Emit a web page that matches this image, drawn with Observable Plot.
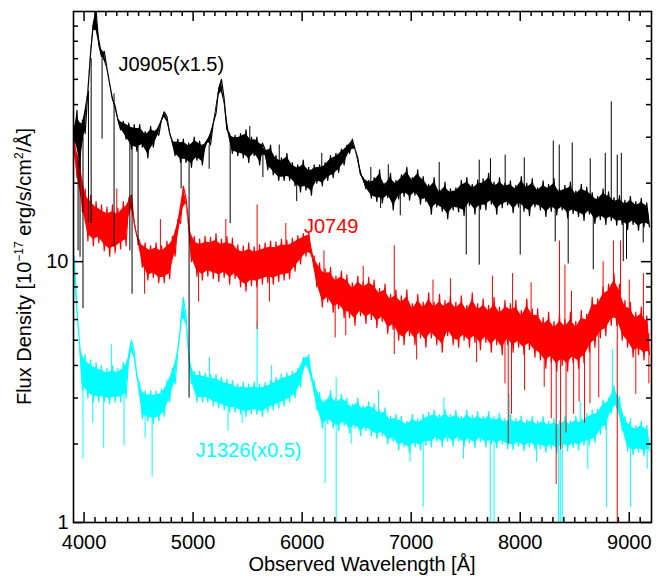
<!DOCTYPE html>
<html><head><meta charset="utf-8">
<script src="https://cdn.jsdelivr.net/npm/d3@7"></script>
<script src="https://cdn.jsdelivr.net/npm/@observablehq/plot@0.6"></script>
<style>body{margin:0;background:#fff}#chart svg{display:block}</style>
</head><body><div id="chart"></div>
<script>
const wavelength = [
3910,3935,3960,3985,4010,4035,4060,4085,4110,4135,
4160,4185,4210,4235,4260,4285,4310,4335,4360,4385,
4410,4435,4460,4485,4510,4535,4560,4585,4610,4635,
4660,4685,4710,4735,4760,4785,4810,4835,4860,4885,
4910,4935,4960,4985,5010,5035,5060,5085,5110,5135,
5160,5185,5210,5235,5260,5285,5310,5335,5360,5385,
5410,5435,5460,5485,5510,5535,5560,5585,5610,5635,
5660,5685,5710,5735,5760,5785,5810,5835,5860,5885,
5910,5935,5960,5985,6010,6035,6060,6085,6110,6135,
6160,6185,6210,6235,6260,6285,6310,6335,6360,6385,
6410,6435,6460,6485,6510,6535,6560,6585,6610,6635,
6660,6685,6710,6735,6760,6785,6810,6835,6860,6885,
6910,6935,6960,6985,7010,7035,7060,7085,7110,7135,
7160,7185,7210,7235,7260,7285,7310,7335,7360,7385,
7410,7435,7460,7485,7510,7535,7560,7585,7610,7635,
7660,7685,7710,7735,7760,7785,7810,7835,7860,7885,
7910,7935,7960,7985,8010,8035,8060,8085,8110,8135,
8160,8185,8210,8235,8260,8285,8310,8335,8360,8385,
8410,8435,8460,8485,8510,8535,8560,8585,8610,8635,
8660,8685,8710,8735,8760,8785,8810,8835,8860,8885,
8910,8935,8960,8985,9010,9035,9060,9085,9110,9135,
9160,9185];

const fluxJ0905 = [
29,38,23,35,31,45,63,82,92,68,
61,64,55,48,42,39.5,35,32,34.5,29.5,
34,27,33.5,26.5,33.5,27.5,31.5,25,33,27.5,
32,30.5,35,37.5,36,31,29,25.5,29.5,24,
29.5,24,28.5,23,30,24.5,29,23.5,28.5,29.5,
28,34,37,46,50,42,32,31,26,30.5,
25.5,31,25,32,24,30,25.5,30,23.5,28.5,
27,22.5,28,21.5,25.5,20.5,25,20.5,26,20.5,
24,19.5,23.5,18.5,24.5,18.8,23,18,23.5,20,
23.5,19.5,24,20.5,25.5,21,26,22,27,23.5,
28,26,29.5,27,25,21.5,21,19,20.5,17.5,
21,17,22.5,16.8,20,17.6,21.8,15.8,20.5,17.4,
21.5,17.8,23,17.2,21,18,22.5,16.6,21.2,17,
19.8,15.2,21,16.2,18.8,15.6,20.2,14.6,19,15.8,
19.2,15.5,20.5,15,21,16.4,19.8,15.2,20.6,15.9,
20.8,15.8,21.8,16.6,20.2,15.2,21,16.1,20,16.5,
20.4,15.4,19.6,16.2,21.2,15.6,20,15,20.8,16.2,
19.2,15.8,20.4,14.9,19.8,15.6,20.8,15.1,19,15.8,
19.6,14.7,20.2,15.3,18.7,14.9,19.8,14.4,19.3,15.2,
18.4,14,17.8,14.5,19,13.9,18.5,14.4,17.6,13.8,
17.9,13.9,17.2,13.3,17.8,13.9,17,13.2,17.5,13.6,
16.8,13.6];

const fluxJ0749 = [
30,21,25,15.5,19,12,18,11.5,17,11.8,
16.5,11,16.2,10.5,16.5,10.8,16,11.2,17,11.5,
17.5,18,14,12.5,12,9.5,11.8,8.5,11.5,8.7,
11.8,8.3,11.5,8.3,12,8.6,12.5,10.5,14.5,14,
19.5,17.5,14,10,12.5,8.8,12.2,8.5,12.5,8.8,
12.4,8.6,12.8,8.4,12.2,8.7,12.5,8.2,12.3,8.6,
11.6,8.0,11.5,7.7,11.8,8.1,11.4,8.0,11.6,8.2,
11.8,8.3,12,8.2,11.9,8.4,12.2,8.5,12.1,8.6,
12.3,9.2,12.6,9.8,12.8,10.5,13,10.5,10.5,8.0,
9.9,6.7,9.4,7.0,9.5,6.4,8.8,6.6,9.2,6.1,
8.9,6.1,8.3,5.7,8.8,6.2,8.4,5.8,8.7,6.0,
8.5,5.6,7.9,5.9,8.2,5.3,7.5,5.5,7.8,5.0,
7.4,4.8,7.8,5.2,6.9,4.8,7.5,5.1,7.0,4.7,
7.6,5.1,7.0,4.8,7.5,4.5,7.1,5.2,7.4,4.8,
7.0,4.7,7.4,5.0,6.8,4.7,7.6,4.9,6.9,4.6,
7.2,4.9,6.8,4.5,7.3,4.8,6.7,4.4,7.1,4.8,
6.9,4.5,7.1,4.7,6.5,4.4,7.2,4.6,6.6,4.3,
6.6,4.2,6.1,3.9,6.4,4.1,5.9,3.8,6.3,4.0,
6.0,3.8,6.4,4.1,5.9,3.9,6.5,4.1,6.3,4.5,
7.3,4.7,7.2,5.1,8.0,5.2,8.2,5.7,9.0,5.7,
8.2,5.0,7.1,4.7,7.0,4.3,6.4,4.4,6.7,4.2,
6.2,4.4];

const fluxJ1326 = [
10.5,6.5,4.8,3.2,4.4,3.0,4.2,2.9,4.1,2.9,
4.0,2.9,3.9,2.85,4.0,2.9,3.9,2.9,4.1,3.0,
4.4,5.0,4.5,3.6,3.4,2.5,3.2,2.45,3.2,2.4,
3.2,2.45,3.25,2.55,3.5,2.9,3.9,3.4,4.6,5.6,
7.3,6.2,4.4,3.4,3.8,2.9,3.8,2.9,3.75,2.9,
3.7,2.8,3.7,2.75,3.6,2.7,3.55,2.65,3.5,2.65,
3.4,2.6,3.45,2.55,3.4,2.6,3.45,2.6,3.4,2.55,
3.45,2.65,3.5,2.7,3.6,2.75,3.7,2.8,3.75,2.9,
3.8,3.0,3.9,3.3,4.3,4.0,4.4,3.5,3.5,2.7,
3.15,2.3,2.95,2.4,3.2,2.3,3.0,2.25,3.1,2.35,
3.0,2.2,2.85,2.3,3.0,2.15,2.8,2.25,2.9,2.15,
2.85,2.1,2.7,2.15,2.75,2.0,2.55,2.05,2.6,1.9,
2.55,1.95,2.45,1.85,2.6,1.95,2.5,1.9,2.6,1.98,
2.65,1.95,2.7,2.05,2.6,1.95,2.72,2.05,2.6,1.96,
2.7,2.05,2.55,1.95,2.7,2.02,2.58,1.94,2.66,2.04,
2.55,1.95,2.66,2.0,2.55,1.93,2.62,2.0,2.5,1.92,
2.6,1.9,2.5,1.96,2.56,1.88,2.48,1.95,2.55,1.9,
2.45,1.92,2.55,1.86,2.44,1.92,2.5,1.85,2.45,1.93,
2.55,1.88,2.46,1.94,2.56,1.9,2.5,1.98,2.62,1.98,
2.7,2.02,2.72,2.18,2.95,2.28,3.0,2.62,3.35,2.75,
3.05,2.25,2.55,1.88,2.45,1.82,2.35,1.86,2.45,1.8,
2.35,1.88];

// narrow features: [wavelength, flux at continuum, flux at tip]
const spikesJ0905 = [
[3945,31,11],[3963,30,10.4],[3990,30,6.6],[4040,45,14],[4065,60,14],[4165,60,29.5],
[4275,44,11.4],[4420,31,11],[4440,30,7.5],[4495,30,11.5],[4890,27,19],[4963,27,3.0],
[5147,28,22.6],[5340,29,14],[5520,27,33],[5640,26,21],[5790,23,28],[5950,21,17],
[6180,21,26],[6630,19,23],[6720,19,16],[6790,19,23.5],[6900,19,15],[7257,17,24],
[7505,17,10.6],[7624,17.5,24.5],[7624,17.5,9.7],[7727,18,24.8],[7862,18,25.6],[8000,18,10.6],
[8037,18,25],[8303,17.5,29],[8321,17.5,11.9],[8358,17.5,28],[8440,17,9.8],[8477,17,28.5],
[8642,16.5,24.8],[8670,16.5,9.3],[8780,16,26],[8835,16,41],[8890,16,25.6],[8927,16,26],
[8945,16,10],[8975,16,10.2],[9128,15.5,11.8]];
const spikesJ0749 = [
[4300,13,19],[4555,10,7.5],[4700,10,14.5],[5050,10,7],[5300,10,14.5],[5587,9.5,16.5],
[5587,9.5,5.5],[5700,9.5,7],[5850,10,14],[6200,8,11],[6303,8,5.1],[6400,7.5,5.2],
[6560,7,9.6],[6845,7,11.5],[6845,7,4.4],[7050,6,4.2],[7200,6,8.5],[7360,6,8.6],
[7600,5.9,4.1],[7745,5.8,8.8],[7860,5.8,3.4],[7890,5.8,2.0],[7920,5.8,2.6],[7930,5.6,9.0],
[8040,5.5,3.2],[8100,5.5,8.3],[8220,5,3.3],[8285,5.0,2.5],[8330,5.0,1.4],[8360,5,12],
[8370,5.0,1.9],[8410,4.9,9.7],[8420,4.9,2.2],[8470,5,7.7],[8490,4.9,2.6],[8540,4.9,2.9],
[8590,5,2.4],[8640,5.5,2.85],[8720,6,3.0],[8760,6.5,10],[8855,7,12],[8890,7,1.0],
[8920,7,12],[9000,5.5,8.5],[9060,5.3,3.1],[9130,5.3,9],[9180,5.3,3.4]];
const spikesJ1326 = [
[3990,3.5,1.75],[4080,3.4,2.4],[4180,3.4,1.93],[4250,3.4,4.8],[4367,3.4,1.97],[4560,2.8,2.1],
[4624,2.8,1.49],[5150,3.2,4.3],[5320,3.0,2.24],[5450,3.0,2.4],[5587,3.0,5.9],[5720,3.0,4.0],
[6211,2.7,1.41],[6312,2.7,1.0],[6312,2.7,3.6],[6450,2.6,2.0],[6700,2.4,3.2],[6990,2.2,1.7],
[7110,2.2,1.14],[7300,2.3,3.0],[7480,2.3,1.75],[7725,2.3,1.0],[7760,2.3,1.0],[7900,2.2,3.1],
[8150,2.2,1.7],[8350,2.2,1.0],[8367,2.2,1.0],[8385,2.2,1.0],[8550,2.2,2.9],[8620,2.2,1.6],
[8790,2.6,1.14],[8845,3.0,4.6],[9010,2.5,1.14],[9165,2.1,1.6]];

const xMajorTicks = [4000,5000,6000,7000,8000,9000];
const xMinorTicks = [4100,4200,4300,4400,4500,4600,4700,4800,4900,5100,5200,5300,5400,5500,5600,5700,5800,5900,
6100,6200,6300,6400,6500,6600,6700,6800,6900,7100,7200,7300,7400,7500,7600,7700,7800,7900,
8100,8200,8300,8400,8500,8600,8700,8800,8900,9100];
const yMajorTicks = [1,10];
const yMinorTicks = [2,3,4,5,6,7,8,9,20,30,40,50,60,70,80];

const seriesNames = ["J0905(x1.5)","J0749","J1326(x0.5)"];
const seriesColors = ["#000000","#ff0000","#00ffff"];

const width = 664, height = 581;
const mL = 73, mR = 13, mT = 11, mB = 59;
const H = height - mT - mB, W = width - mL - mR;
const FONT = "'Liberation Sans', Arial, Helvetica, sans-serif";

// rows plus a dense core inside the noise envelope of the read samples
const rows = flux => wavelength.map((w, i) => {
  const f = flux[i];
  const a = flux[Math.max(0, i - 1)], b = flux[Math.min(flux.length - 1, i + 1)];
  const m = Math.sqrt(a * b);
  const lo = Math.min(f, m), hi = Math.max(f, m);
  const s = Math.pow(hi / lo, 0.14);
  return {w, f, lo: lo * s, hi: hi / s};
});
const spec = (flux, color) => {
  const r = rows(flux);
  return [
    Plot.areaY(r, {x: "w", y1: "lo", y2: "hi", fill: color, clip: true}),
    Plot.line(r, {x: "w", y: "f", stroke: color, strokeWidth: 1.2, clip: true})
  ];
};
const spk = (arr, color) => Plot.ruleX(arr, {x: d => d[0], y1: d => d[1], y2: d => d[2], stroke: color, strokeWidth: 1, clip: true});

const chart = Plot.plot({
  width, height, marginLeft: mL, marginRight: mR, marginTop: mT, marginBottom: mB,
  style: {fontFamily: FONT, fontSize: "20px", color: "black", background: "white"},
  x: {domain: [3903, 9204]},
  y: {type: "log", domain: [1, 91]},
  marks: [
    spec(fluxJ1326, seriesColors[2]), spk(spikesJ1326, seriesColors[2]),
    spec(fluxJ0749, seriesColors[1]), spk(spikesJ0749, seriesColors[1]),
    spec(fluxJ0905, seriesColors[0]), spk(spikesJ0905, seriesColors[0]),
    Plot.frame({stroke: "black", strokeWidth: 1.6}),
    Plot.tickX(xMajorTicks, {x: d => d, insetTop: H - 10, stroke: "black", strokeWidth: 1.5}),
    Plot.tickX(xMajorTicks, {x: d => d, insetBottom: H - 10, stroke: "black", strokeWidth: 1.5}),
    Plot.tickX(xMinorTicks, {x: d => d, insetTop: H - 5, stroke: "black", strokeWidth: 1.5}),
    Plot.tickX(xMinorTicks, {x: d => d, insetBottom: H - 5, stroke: "black", strokeWidth: 1.5}),
    Plot.tickY(yMajorTicks, {y: d => d, insetRight: W - 10, stroke: "black", strokeWidth: 1.5}),
    Plot.tickY(yMajorTicks, {y: d => d, insetLeft: W - 10, stroke: "black", strokeWidth: 1.5}),
    Plot.tickY(yMinorTicks, {y: d => d, insetRight: W - 5, stroke: "black", strokeWidth: 1.5}),
    Plot.tickY(yMinorTicks, {y: d => d, insetLeft: W - 5, stroke: "black", strokeWidth: 1.5}),
    Plot.axisX({ticks: xMajorTicks, tickSize: 0, tickPadding: 12, tickFormat: d => String(d), label: null, fontSize: 20}),
    Plot.axisY({ticks: yMajorTicks, tickSize: 0, tickPadding: 5, tickFormat: d => String(d), label: null, fontSize: 20}),
    Plot.text([seriesNames[0]], {x: () => 4800, y: () => 57, text: d => d, fill: seriesColors[0], fontSize: 20}),
    Plot.text([seriesNames[1]], {x: () => 6266, y: () => 13.6, text: d => d, fill: seriesColors[1], fontSize: 20}),
    Plot.text([seriesNames[2]], {x: () => 5509, y: () => 1.88, text: d => d, fill: seriesColors[2], fontSize: 20})
  ]
});

const svg = d3.select(chart);
svg.append("text")
  .attr("x", mL + W / 2).attr("y", 571)
  .attr("text-anchor", "middle").attr("font-size", 20).attr("font-family", FONT).attr("fill", "black")
  .text("Observed Wavelength [Å]");
const yl = svg.append("text")
  .attr("transform", `translate(31,${mT + H / 2}) rotate(-90)`)
  .attr("text-anchor", "middle").attr("font-size", 20).attr("font-family", FONT).attr("fill", "black");
yl.append("tspan").text("Flux Density [10");
yl.append("tspan").attr("font-size", 12).attr("dy", -8).text("−17");
yl.append("tspan").attr("dy", 8).text(" erg/s/cm");
yl.append("tspan").attr("font-size", 12).attr("dy", -8).text("2");
yl.append("tspan").attr("dy", 8).text("/Å]");

document.getElementById("chart").appendChild(chart);
</script>
</body></html>
